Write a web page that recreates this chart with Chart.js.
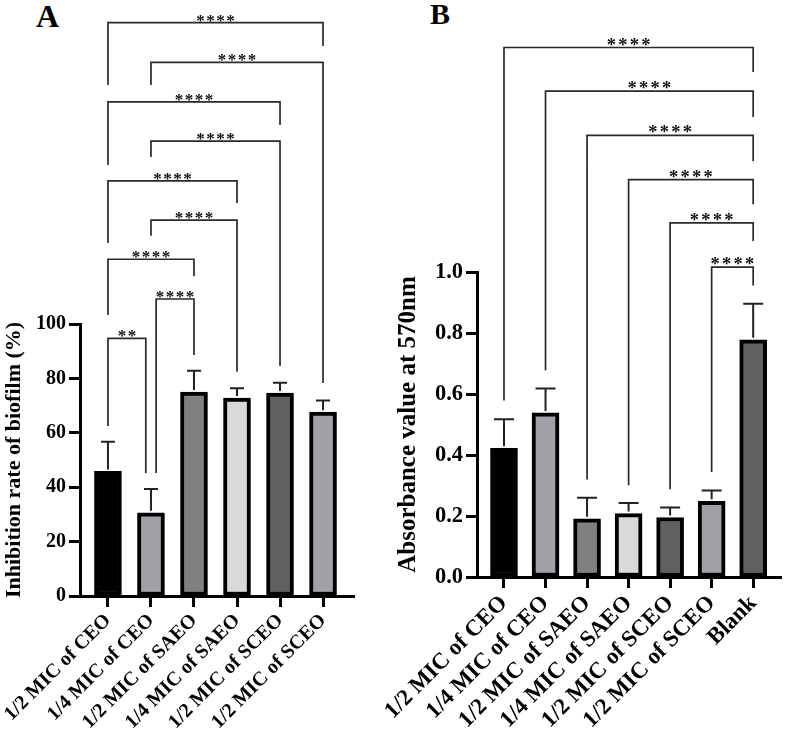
<!DOCTYPE html>
<html>
<head>
<meta charset="utf-8">
<script src="https://cdn.jsdelivr.net/npm/chart.js@4.4.0/dist/chart.umd.min.js"></script>
<style>
  html, body { margin: 0; padding: 0; background: #fff; }
  body { width: 786px; height: 741px; position: relative; overflow: hidden; font-family: 'Liberation Serif', 'Times New Roman', serif; }
  .panel { position: absolute; top: 0; }
  #wrapA { left: 0; width: 390px; height: 741px; }
  #wrapB { left: 360px; width: 426px; height: 741px; }
  .letter { position: absolute; font-weight: bold; line-height: 1; color: #000; }
</style>
</head>
<body>
<div class="letter" style="left:36px;top:0px;font-size:32px">A</div>
<div class="letter" style="left:430px;top:-1px;font-size:30px">B</div>
<div class="panel" id="wrapA"><canvas id="chartA" width="390" height="741"></canvas></div>
<div class="panel" id="wrapB"><canvas id="chartB" width="426" height="741"></canvas></div>
<script>
// Panel A - inhibition rate
const categoriesA = ['1/2 MIC of CEO', '1/4 MIC of CEO', '1/2 MIC of SAEO', '1/4 MIC of SAEO', '1/2 MIC of SCEO', '1/2 MIC of SCEO'];
const meansA = [45.8, 30.6, 75.0, 72.8, 74.6, 67.6];
const errTopA = [56.7, 39.3, 82.8, 76.4, 78.4, 71.9];
const ticksA = [0, 20, 40, 60, 80, 100];
const colorsA = ['#000000', '#a0a0a6', '#808080', '#d9d9d9', '#616161', '#a0a0a6'];
// significance brackets (group index, height and leg ends in data units)
const bracketFromA = [0, 1, 0, 1, 0, 1, 0, 1.12, 0];
const bracketToA = [5, 5, 4, 4, 3, 3, 2, 2, 0.88];
const bracketLevelA = [210.8, 196.2, 181.7, 167.2, 152.6, 138.2, 123.8, 109.2, 94.7];
const legLeftA = [187.9, 187.9, 158.5, 161.4, 129.8, 132.4, 103.3, 45.2, 62.5];
const legRightA = [202.2, 78.3, 173.2, 84.6, 144.5, 82.4, 117.6, 88.6, 45.2];
const starsA = ['****', '****', '****', '****', '****', '****', '****', '****', '**'];

// Panel B - absorbance
const categoriesB = ['1/2 MIC of CEO', '1/4 MIC of CEO', '1/2 MIC of SAEO', '1/4 MIC of SAEO', '1/2 MIC of SCEO', '1/2 MIC of SCEO', 'Blank'];
const meansB = [0.422, 0.538, 0.191, 0.208, 0.195, 0.248, 0.778];
const errTopB = [0.517, 0.618, 0.260, 0.243, 0.228, 0.284, 0.896];
const ticksB = [0, 0.2, 0.4, 0.6, 0.8, 1.0];
const colorsB = ['#000000', '#a0a0a6', '#808080', '#d9d9d9', '#616161', '#a0a0a6', '#616161'];
const bracketFromB = [0, 1, 2, 3, 4, 5];
const bracketToB = [6, 6, 6, 6, 6, 6];
const bracketLevelB = [1.736, 1.593, 1.448, 1.303, 1.161, 1.016];
const legLeftB = [0.579, 0.678, 0.320, 0.301, 0.288, 0.344];
const legRightB = [1.656, 1.508, 1.363, 1.222, 1.102, 0.956];
const starsB = ['****', '****', '****', '****', '****', '****'];

const SERIF = "'Liberation Serif', 'Times New Roman', serif";

// error bars + brackets drawn through the chart's scales
function annotations(d) {
    return {
        id: 'annotations',
        afterDatasetsDraw(chart) {
            const ctx = chart.ctx;
            const xs = chart.scales.x, ys = chart.scales.y;
            ctx.save();
            ctx.lineCap = 'butt';

            // SD bars (upper only)
            ctx.strokeStyle = '#222';
            ctx.lineWidth = 2;
            d.means.forEach((m, i) => {
                const px = xs.getPixelForValue(i);
                const top = ys.getPixelForValue(d.errTop[i]);
                ctx.beginPath();
                ctx.moveTo(px, ys.getPixelForValue(m) - 2);
                ctx.lineTo(px, top);
                ctx.moveTo(px - d.cap / 2, top);
                ctx.lineTo(px + d.cap / 2, top);
                ctx.stroke();
            });

            // brackets
            ctx.strokeStyle = '#2a2a2a';
            ctx.lineWidth = 1.7;
            ctx.fillStyle = '#111';
            ctx.font = 'bold ' + d.starSize + 'px ' + SERIF;
            ctx.textAlign = 'center';
            ctx.textBaseline = 'alphabetic';
            d.from.forEach((f, i) => {
                const x1 = xs.getPixelForValue(f);
                const x2 = xs.getPixelForValue(d.to[i]);
                const yl = ys.getPixelForValue(d.level[i]);
                ctx.beginPath();
                ctx.moveTo(x1, ys.getPixelForValue(d.legL[i]));
                ctx.lineTo(x1, yl);
                ctx.lineTo(x2, yl);
                ctx.lineTo(x2, ys.getPixelForValue(d.legR[i]));
                ctx.stroke();
                const n = d.stars[i].length;
                const cx = (x1 + x2) / 2;
                for (let k = 0; k < n; k++) {
                    ctx.fillText('*', cx + (k - (n - 1) / 2) * d.starGap, yl + 3);
                }
            });
            ctx.restore();
        }
    };
}

function makeChart(id, d) {
    return new Chart(document.getElementById(id), {
        type: 'bar',
        data: {
            datasets: [{
                data: d.means.map((v, i) => ({ x: i, y: v })),
                backgroundColor: d.colors,
                borderColor: '#000',
                borderWidth: 4,
                borderSkipped: false,
                barThickness: d.barW
            }]
        },
        options: {
            responsive: false,
            animation: false,
            layout: { padding: { top: d.padTop, right: d.padRight, left: d.padLeft, bottom: 0 } },
            plugins: {
                legend: { display: false },
                tooltip: { enabled: false }
            },
            scales: {
                x: {
                    type: 'linear',
                    offset: false,
                    min: d.xMin,
                    max: d.xMax,
                    afterBuildTicks: s => { s.ticks = d.categories.map((c, i) => ({ value: i })); },
                    afterFit: s => { s.height = d.xAxisH; s.paddingLeft = 0; s.paddingRight = 0; },
                    grid: { offset: false, drawOnChartArea: false, drawTicks: true, tickLength: 11, tickWidth: 3, tickColor: '#000' },
                    border: { display: true, width: 3, color: '#000' },
                    ticks: {
                        autoSkip: false,
                        minRotation: 45,
                        maxRotation: 45,
                        padding: 2,
                        color: '#000',
                        font: { family: SERIF, weight: 'bold', size: d.xFont },
                        callback: v => d.categories[v]
                    }
                },
                y: {
                    min: 0,
                    max: d.yMax,
                    afterBuildTicks: s => { s.ticks = d.ticks.map(v => ({ value: v })); },
                    afterFit: s => { s.width = d.yAxisW; s.paddingTop = 0; s.paddingBottom = 0; },
                    grid: { drawOnChartArea: false, drawTicks: true, tickLength: 11, tickWidth: 3, tickColor: '#000' },
                    border: { display: true, width: 3, color: '#000' },
                    ticks: {
                        padding: 3,
                        color: '#000',
                        font: { family: SERIF, weight: 'bold', size: d.yFont },
                        callback: v => v.toFixed(d.dec)
                    },
                    title: {
                        display: true,
                        text: d.title,
                        color: '#000',
                        padding: { top: d.titlePad, bottom: 0 },
                        font: { family: SERIF, weight: 'bold', size: d.titleFont }
                    }
                }
            }
        },
        plugins: [annotations(d)]
    });
}

makeChart('chartA', {
    categories: categoriesA, means: meansA, errTop: errTopA, ticks: ticksA, colors: colorsA,
    from: bracketFromA, to: bracketToA, level: bracketLevelA, legL: legLeftA, legR: legRightA, stars: starsA,
    title: 'Inhibition rate of biofilm (%)', dec: 0, yMax: 100,
    xMin: -0.65, xMax: 5.72, padTop: 324, padRight: 36, padLeft: 0, xAxisH: 145, yAxisW: 80,
    barW: 27, cap: 14, starSize: 17, starGap: 10, xFont: 20, yFont: 20, titleFont: 22, titlePad: 1
});

makeChart('chartB', {
    categories: categoriesB, means: meansB, errTop: errTopB, ticks: ticksB, colors: colorsB,
    from: bracketFromB, to: bracketToB, level: bracketLevelB, legL: legLeftB, legR: legRightB, stars: starsB,
    title: 'Absorbance value at 570nm', dec: 1, yMax: 1.0,
    xMin: -0.65, xMax: 6.67, padTop: 272, padRight: 5, padLeft: 30, xAxisH: 164, yAxisW: 87,
    barW: 27, cap: 20, starSize: 18.5, starGap: 11.5, xFont: 23, yFont: 22.5, titleFont: 25, titlePad: 4
});
</script>
</body>
</html>
